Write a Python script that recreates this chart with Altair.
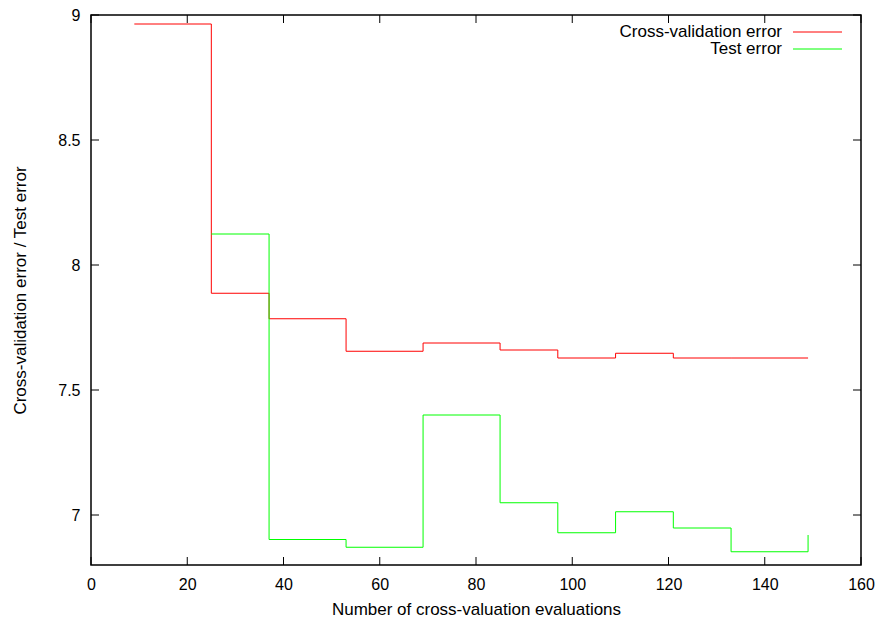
import altair as alt
import pandas as pd

# Number of cross-validation evaluations at which each error was recorded
cv_evals = [9, 25, 37, 53, 69, 85, 97, 109, 121, 133, 149]
cv_error = [8.964, 7.887, 7.785, 7.655, 7.688, 7.660, 7.628, 7.647, 7.628, 7.628, 7.628]

test_evals = [25, 37, 53, 69, 85, 97, 109, 121, 133, 149]
test_error = [8.124, 6.902, 6.871, 7.400, 7.049, 6.929, 7.013, 6.948, 6.853, 6.920]

series_names = ["Cross-validation error", "Test error"]
series_colors = ["#ff0000", "#00ff00"]

x_ticks = [0, 20, 40, 60, 80, 100, 120, 140, 160]
y_ticks = [7.0, 7.5, 8.0, 8.5, 9.0]

W, H = 770, 550
FONT = "Liberation Sans"
TICK_LEN = 8

cv_df = pd.DataFrame({"evals": cv_evals, "error": cv_error})
test_df = pd.DataFrame({"evals": test_evals, "error": test_error})
xt_df = pd.DataFrame({"evals": x_ticks})
yt_df = pd.DataFrame({"error": y_ticks})

x_scale = alt.Scale(domain=[0, 160], nice=False)
y_scale = alt.Scale(domain=[6.8, 9.0], nice=False, zero=False)

x_axis = alt.Axis(
    values=x_ticks, ticks=False, tickSize=0, grid=False, domain=False,
    labelFlush=False,
    labelFont=FONT, labelFontSize=16, labelColor="black", labelPadding=11,
    title="Number of cross-valuation evaluations", titleFont=FONT,
    titleFontSize=17, titleFontWeight="normal", titleColor="black",
    titleBaseline="alphabetic", titleY=49,
)
y_axis = alt.Axis(
    values=y_ticks, ticks=False, tickSize=0, grid=False, domain=False,
    labelFlush=False,
    labelFont=FONT, labelFontSize=16, labelColor="black", labelPadding=11,
    labelExpr="datum.value",
    title="Cross-validation error / Test error", titleFont=FONT,
    titleFontSize=17, titleFontWeight="normal", titleColor="black",
    titleX=-71, titleY=H / 2, titleAlign="center", titleBaseline="middle",
    titleAngle=-90,
)

X = alt.X("evals:Q", scale=x_scale, axis=x_axis)
Y = alt.Y("error:Q", scale=y_scale, axis=y_axis)

cv_line = alt.Chart(cv_df).mark_line(
    interpolate="step-after", color=series_colors[0], strokeWidth=1, clip=True
).encode(x=X, y=Y)

test_line = alt.Chart(test_df).mark_line(
    interpolate="step-after", color=series_colors[1], strokeWidth=1, clip=True
).encode(x=X, y=Y)

# Inward tick marks on all four sides of the frame
tick_style = dict(color="black", strokeWidth=1)
bottom_ticks = alt.Chart(xt_df).mark_rule(**tick_style).encode(
    x=X, y=alt.value(H), y2=alt.value(H - TICK_LEN),
)
top_ticks = alt.Chart(xt_df).mark_rule(**tick_style).encode(
    x=X, y=alt.value(0), y2=alt.value(TICK_LEN),
)
left_ticks = alt.Chart(yt_df).mark_rule(**tick_style).encode(
    y=Y, x=alt.value(0), x2=alt.value(TICK_LEN),
)
right_ticks = alt.Chart(yt_df).mark_rule(**tick_style).encode(
    y=Y, x=alt.value(W), x2=alt.value(W - TICK_LEN),
)

# Key in the top right corner: label on the left, line sample on the right
key_layers = []
for i, (name, col) in enumerate(zip(series_names, series_colors)):
    row_y = 17 + i * 17
    key_df = pd.DataFrame({"name": [name]})
    key_layers.append(
        alt.Chart(key_df).mark_text(
            align="right", baseline="middle", font=FONT,
            fontSize=17, color="black",
        ).encode(text="name:N", x=alt.value(691), y=alt.value(row_y))
    )
    key_layers.append(
        alt.Chart(key_df).mark_rule(color=col, strokeWidth=1).encode(
            x=alt.value(702), x2=alt.value(751), y=alt.value(row_y)
        )
    )

chart = alt.layer(
    cv_line, test_line, bottom_ticks, top_ticks, left_ticks, right_ticks,
    *key_layers,
).properties(
    width=W, height=H,
    autosize=alt.AutoSizeParams(type="none"),
    padding={"left": 91, "top": 15, "right": 19, "bottom": 54},
    background="white",
).configure_view(
    stroke="black", strokeWidth=1.5,
)

chart.save("out.html", embed_options={"renderer": "svg", "actions": False})
